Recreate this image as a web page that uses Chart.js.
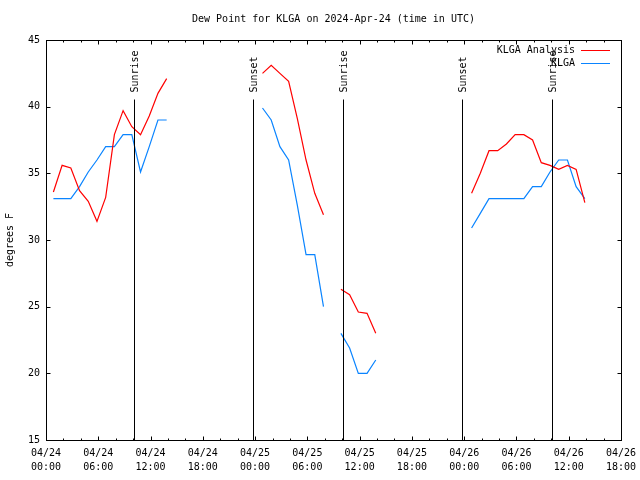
<!DOCTYPE html>
<html>
<head>
<meta charset="utf-8">
<title>Dew Point for KLGA</title>
<script src="https://cdn.jsdelivr.net/npm/chart.js@4.4.1/dist/chart.umd.min.js"></script>
<style>
  html, body { margin: 0; padding: 0; background: #fff; }
</style>
</head>
<body>
<canvas id="mainChart" width="640" height="480"></canvas>
<script>
// hours since 04/24 00:00 UTC (obs at :51), null breaks the lines
var hours = [0.85, 1.85, 2.85, 3.85, 4.85, 5.85, 6.85, 7.85, 8.85, 9.85, 10.85, 11.85, 12.85, 13.85, 14.85,
    24.85, 25.85, 26.85, 27.85, 28.85, 29.85, 30.85, 31.85, 32.85,
    33.85, 34.85, 35.85, 36.85, 37.85, 38.85,
    48.85, 49.85, 50.85, 51.85, 52.85, 53.85, 54.85, 55.85, 56.85, 57.85, 58.85, 59.85, 60.85, 61.85];

var analysis = [33.6, 35.6, 35.4, 33.7, 32.9, 31.4, 33.2, 37.9, 39.7, 38.5, 37.9, 39.3, 41.0, 42.1, null,
    42.5, 43.1, 42.5, 41.9, 39.1, 36.0, 33.5, 31.9, null,
    26.3, 25.9, 24.6, 24.5, 23.0, null,
    33.5, 35.0, 36.7, 36.7, 37.2, 37.9, 37.9, 37.5, 35.8, 35.6, 35.3, 35.6, 35.3, 32.8];

var klga = [33.1, 33.1, 33.1, 34.0, 35.1, 36.0, 37.0, 37.0, 37.9, 37.9, 35.1, 37.0, 39.0, 39.0, null,
    39.9, 39.0, 37.0, 36.0, 32.6, 28.9, 28.9, 25.0, null,
    23.0, 21.9, 20.0, 20.0, 21.0, null,
    30.9, 32.0, 33.1, 33.1, 33.1, 33.1, 33.1, 34.0, 34.0, 35.1, 36.0, 36.0, 34.0, 33.1];

// sunrise / sunset times, hours since 04/24 00:00 UTC
var sunTimes = [10.13, 23.72, 34.13, 47.72, 58.12];
var sunLabels = ['Sunrise', 'Sunset', 'Sunrise', 'Sunset', 'Sunrise'];

var chartTitle = 'Dew Point for KLGA on 2024-Apr-24 (time in UTC)';

var MONO = "'DejaVu Sans Mono', 'Liberation Mono', monospace";

function points(values) {
    var out = [];
    for (var i = 0; i < hours.length; i++) {
        out.push({ x: hours[i], y: values[i] });
    }
    return out;
}

// title, frame, inward ticks, sun lines and the legend, gnuplot style
var overlay = {
    id: 'overlay',
    afterDatasetsDraw: function (chart) {
        var ctx = chart.ctx;
        var a = chart.chartArea;
        var xs = chart.scales.x;
        var ys = chart.scales.y;
        var L = Math.round(a.left) + 0.5, R = Math.round(a.right) + 0.5;
        var T = Math.round(a.top) + 0.5, B = Math.round(a.bottom) + 0.5;

        ctx.save();
        ctx.font = '10px ' + MONO;
        ctx.fillStyle = '#000';
        ctx.textAlign = 'center';
        ctx.textBaseline = 'middle';
        ctx.fillText(chartTitle, (a.left + a.right) / 2, 19.5);

        ctx.strokeStyle = '#000';
        ctx.lineWidth = 1;
        ctx.beginPath();
        for (var h = 0; h <= 66; h += 2) {
            var px = Math.round(xs.getPixelForValue(h)) + 0.5;
            var len = (h % 6 === 0) ? 4 : 2;
            ctx.moveTo(px, B); ctx.lineTo(px, B - len);
            ctx.moveTo(px, T); ctx.lineTo(px, T + len);
        }
        for (var v = 15; v <= 45; v += 5) {
            var py = Math.round(ys.getPixelForValue(v)) + 0.5;
            ctx.moveTo(L, py); ctx.lineTo(L + 4, py);
            ctx.moveTo(R, py); ctx.lineTo(R - 4, py);
        }
        ctx.stroke();
        ctx.strokeRect(L, T, R - L, B - T);

        // sunrise / sunset markers
        for (var i = 0; i < sunTimes.length; i++) {
            var sx = Math.round(xs.getPixelForValue(sunTimes[i])) + 0.5;
            ctx.beginPath();
            ctx.moveTo(sx, T + 59);
            ctx.lineTo(sx, B);
            ctx.stroke();
            ctx.save();
            ctx.translate(sx + 1, T + 52);
            ctx.rotate(-Math.PI / 2);
            ctx.textAlign = 'left';
            ctx.textBaseline = 'middle';
            ctx.fillText(sunLabels[i], 0, 0);
            ctx.restore();
        }

        // legend top right
        ctx.textAlign = 'right';
        ctx.textBaseline = 'middle';
        chart.data.datasets.forEach(function (ds, k) {
            var ly = Math.round(a.top + 10 + k * 13) + 0.5;
            ctx.fillStyle = '#000';
            ctx.fillText(ds.label, a.right - 46, ly);
            ctx.strokeStyle = ds.borderColor;
            ctx.beginPath();
            ctx.moveTo(a.right - 40, ly);
            ctx.lineTo(a.right - 11, ly);
            ctx.stroke();
        });
        ctx.restore();
    }
};

function dewpoint_graph() {
    var ctx = document.getElementById('mainChart').getContext('2d');

    var chart = new Chart(ctx, {
        type: 'line',
        data: {
            datasets: [{
                label: 'KLGA Analysis',
                data: points(analysis),
                borderColor: '#ff0000',
                borderWidth: 1.2,
                pointRadius: 0,
                spanGaps: false
            }, {
                label: 'KLGA',
                data: points(klga),
                borderColor: '#0a84ff',
                borderWidth: 1.2,
                pointRadius: 0,
                spanGaps: false
            }]
        },
        options: {
            responsive: false,
            animation: false,
            layout: { padding: { top: 40, right: 19, bottom: 0, left: 0 } },
            plugins: {
                legend: { display: false },
                tooltip: { enabled: false },
                title: { display: false }
            },
            scales: {
                x: {
                    type: 'linear',
                    min: 0,
                    max: 66,
                    grid: { display: false, drawTicks: false },
                    border: { display: false },
                    afterFit: function (s) {
                        s.height = 40;
                        s.paddingLeft = 0;
                        s.paddingRight = 0;
                    },
                    ticks: {
                        stepSize: 6,
                        maxRotation: 0,
                        padding: 6,
                        color: '#000',
                        font: { family: MONO, size: 10, lineHeight: 1.45 },
                        callback: function (v) {
                            var day = 24 + Math.floor(v / 24);
                            var hr = v % 24;
                            return ['04/' + day, (hr < 10 ? '0' : '') + hr + ':00'];
                        }
                    }
                },
                y: {
                    min: 15,
                    max: 45,
                    grid: { display: false, drawTicks: false },
                    border: { display: false },
                    afterFit: function (s) {
                        s.width = 46;
                        s.paddingTop = 0;
                        s.paddingBottom = 0;
                    },
                    title: {
                        display: true,
                        text: 'degrees F',
                        color: '#000',
                        font: { family: MONO, size: 10 },
                        padding: { top: 4, bottom: 0 }
                    },
                    ticks: {
                        stepSize: 5,
                        padding: 6,
                        color: '#000',
                        font: { family: MONO, size: 10 }
                    }
                }
            }
        },
        plugins: [overlay]
    });
}

dewpoint_graph();
</script>
</body>
</html>
